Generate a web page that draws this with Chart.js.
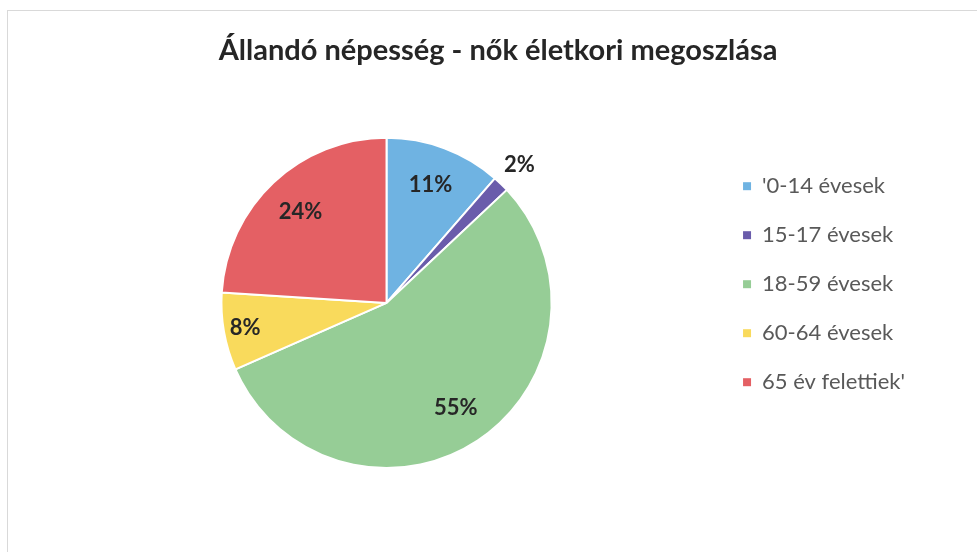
<!DOCTYPE html>
<html>
<head>
<meta charset="utf-8">
<script src="https://cdn.jsdelivr.net/npm/chart.js@4.4.1/dist/chart.umd.min.js"></script>
<style>
  html, body { margin: 0; padding: 0; background: #fff; }
  #wrap { width: 977px; height: 552px; }
</style>
</head>
<body>
<div id="wrap"><canvas id="myChart" width="977" height="552"></canvas></div>
<script>
const titleText = "Állandó népesség - nők életkori megoszlása";
const categories = ["'0-14 évesek", "15-17 évesek", "18-59 évesek", "60-64 évesek", "65 év felettiek'"];
const shares = [11.4, 1.6, 55.4, 7.6, 24.0];
const sliceColors = ["#6fb3e2", "#6a5cab", "#96cd96", "#f9da5c", "#e46064"];

// label distance from centre, as share of the radius (2% sits outside)
const labelRadius = [0.76, 1.16, 0.76, 0.87, 0.76];

const frame = {
    id: 'frame',
    beforeDraw(chart) {
        const ctx = chart.ctx;
        ctx.save();
        ctx.fillStyle = '#fff';
        ctx.fillRect(0, 0, chart.width, chart.height);
        ctx.strokeStyle = '#d9d9d9';
        ctx.lineWidth = 1;
        ctx.strokeRect(7.5, 10.5, chart.width, chart.height);
        ctx.restore();
    },
    // title sits a bit right of the plot+legend centre in the original
    afterLayout(chart) {
        if (chart.titleBlock) {
            chart.titleBlock.left += 12;
            chart.titleBlock.right += 12;
        }
    }
};

const pctLabels = {
    id: 'pctLabels',
    afterDatasetsDraw(chart) {
        const ctx = chart.ctx;
        const meta = chart.getDatasetMeta(0);
        const total = shares.reduce((a, b) => a + b, 0);
        ctx.save();
        ctx.font = 'bold 22px Lato';
        ctx.fillStyle = '#262626';
        ctx.textAlign = 'center';
        ctx.textBaseline = 'middle';
        meta.data.forEach((arc, i) => {
            const p = arc.getProps(['x', 'y', 'startAngle', 'endAngle', 'outerRadius']);
            const mid = (p.startAngle + p.endAngle) / 2;
            const r = p.outerRadius * labelRadius[i];
            ctx.fillText(Math.round(shares[i] / total * 100) + '%', p.x + Math.cos(mid) * r, p.y + Math.sin(mid) * r);
        });
        ctx.restore();
    }
};

const ctx = document.getElementById('myChart').getContext('2d');
const myChart = new Chart(ctx, {
    type: 'pie',
    data: {
        labels: categories,
        datasets: [{
            data: shares,
            backgroundColor: sliceColors,
            borderColor: '#fff',
            borderWidth: 2
        }]
    },
    options: {
        responsive: false,
        animation: false,
        layout: { padding: { left: 57, right: 62, top: 14, bottom: 83 } },
        plugins: {
            title: {
                display: true,
                text: titleText,
                color: '#262626',
                font: { family: 'Lato', size: 29, weight: 'bold' },
                padding: { top: 19, bottom: 69 }
            },
            legend: {
                position: 'right',
                title: { display: true, text: '', padding: { top: 0, bottom: 71 } },
                labels: {
                    boxWidth: 8,
                    boxHeight: 8,
                    padding: 27,
                    color: '#595959',
                    font: { family: 'Lato', size: 22 },
                    generateLabels(chart) {
                        const items = Chart.overrides.pie.plugins.legend.labels.generateLabels(chart);
                        items.forEach(it => { it.lineWidth = 0; });
                        return items;
                    }
                }
            },
            tooltip: { enabled: false }
        }
    },
    plugins: [frame, pctLabels]
});
</script>
</body>
</html>
